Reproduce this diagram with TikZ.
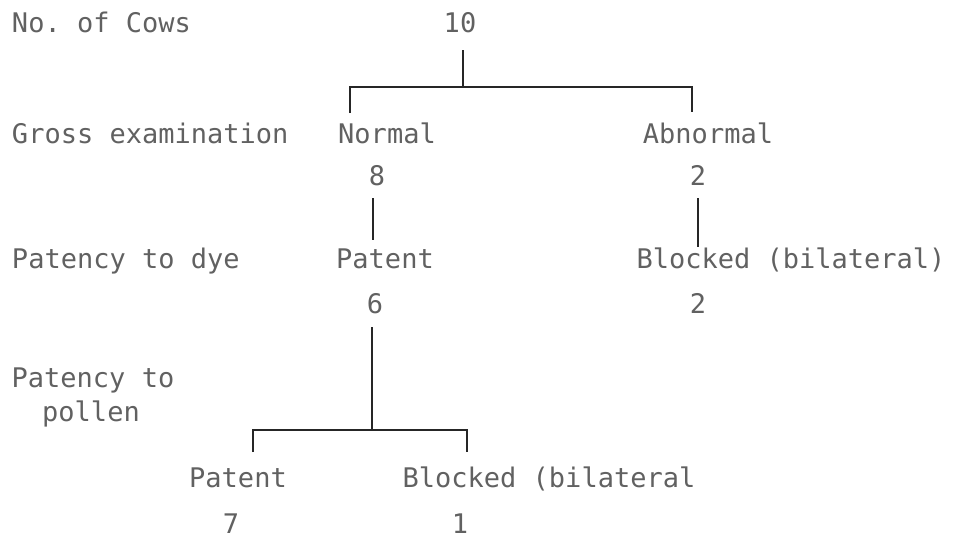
\documentclass[tikz,border=0pt]{standalone}
\usepackage{fontspec}
\setmonofont{DejaVu Sans Mono}
\begin{document}
\begin{tikzpicture}[x=1pt,y=-1pt,
  every node/.style={inner sep=0pt,outer sep=0pt},
  lbl/.style={anchor=base west,text=black!62,font=\fontsize{27}{30}\selectfont\ttfamily},
  val/.style={anchor=base,text=black!62,font=\fontsize{27}{30}\selectfont\ttfamily},
  link/.style={draw=black!85,line width=1.1pt}]
\useasboundingbox (0,0) rectangle (953,538);

% row headings
\node[lbl] (hcows)  at (12,32)  {No. of Cows};
\node[lbl] (hgross) at (12,143) {Gross examination};
\node[lbl] (hdye)   at (12,268) {Patency to dye};
\node[val] (hpol1)  at (93,387) {Patency to};
\node[val] (hpol2)  at (91,421) {pollen};

% tree entries
\node[val] (ten)      at (460,32)  {10};
\node[val] (normal)   at (387,143) {Normal};
\node[val] (abnormal) at (708,143) {Abnormal};
\node[val] (eight)    at (377,185) {8};
\node[val] (twoa)     at (698,185) {2};
\node[val] (patdye)   at (385,268) {Patent};
\node[val] (blkdye)   at (791,268) {Blocked (bilateral)};
\node[val] (six)      at (375,313) {6};
\node[val] (twob)     at (698,313) {2};
\node[val] (patpol)   at (238,487) {Patent};
\node[val] (blkpol)   at (549,487) {Blocked (bilateral};
\node[val] (seven)    at (231,533) {7};
\node[val] (one)      at (460,533) {1};

% junction points of the brackets
\coordinate (topstem) at (463,50);
\coordinate (topbar)  at (463,87);
\coordinate (topl)    at (350,87);
\coordinate (topr)    at (692,87);
\coordinate (topld)   at (350,113);
\coordinate (toprd)   at (692,112);
\coordinate (s8a) at (373,198);
\coordinate (s8b) at (373,240);
\coordinate (s2a) at (698,198);
\coordinate (s2b) at (698,247);
\coordinate (s6a) at (372,327);
\coordinate (botbar) at (372,430);
\coordinate (botl)  at (253,430);
\coordinate (botr)  at (467,430);
\coordinate (botld) at (253,452);
\coordinate (botrd) at (467,452);

% connectors
\draw[link] (topstem) -- (topbar);
\draw[link] (topld) -- (topl) -- (topr) -- (toprd);
\draw[link] (s8a) -- (s8b);
\draw[link] (s2a) -- (s2b);
\draw[link] (s6a) -- (botbar);
\draw[link] (botld) -- (botl) -- (botr) -- (botrd);
\end{tikzpicture}
\end{document}
